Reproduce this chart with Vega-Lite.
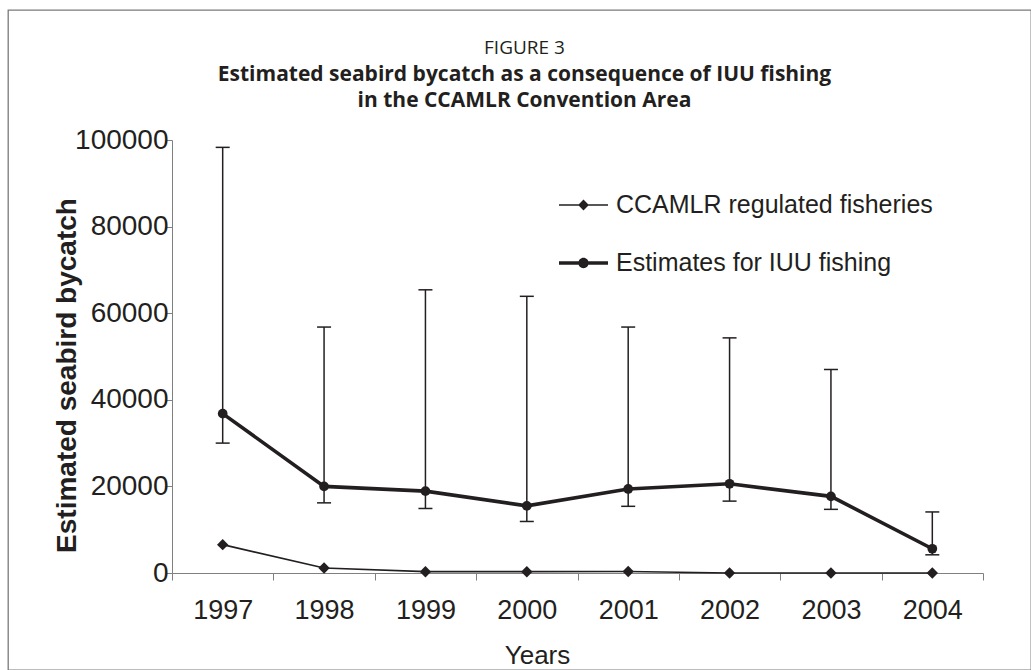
{
  "$schema": "https://vega.github.io/schema/vega-lite/v6.json",
  "autosize": "none",
  "width": 1023,
  "height": 660,
  "padding": {"left": 8, "top": 10, "right": 0, "bottom": 0},
  "background": "white",
  "config": {
    "view": {"stroke": "#7a7a7a", "strokeWidth": 1.3},
    "axis": {"labelFont": "Liberation Sans", "titleFont": "Liberation Sans", "labelColor": "#231f20", "titleColor": "#231f20", "domainColor": "#808080", "tickColor": "#808080", "grid": false}
  },
  "title": {
    "text": "FIGURE 3",
    "subtitle": ["Estimated seabird bycatch as a consequence of IUU fishing", "in the CCAMLR Convention Area"],
    "font": "Open Sans", "fontSize": 19, "fontWeight": "normal", "color": "#231f20",
    "subtitleFont": "Open Sans", "subtitleFontSize": 21, "subtitleFontWeight": "bold", "subtitleColor": "#231f20",
    "subtitleLineHeight": 26, "subtitlePadding": 6,
    "anchor": "middle", "frame": "group", "dx": 5, "offset": -101
  },
  "data": {"values": [
    {"year": 1997, "series": "CCAMLR regulated fisheries", "value": 6550},
    {"year": 1998, "series": "CCAMLR regulated fisheries", "value": 1150},
    {"year": 1999, "series": "CCAMLR regulated fisheries", "value": 300},
    {"year": 2000, "series": "CCAMLR regulated fisheries", "value": 300},
    {"year": 2001, "series": "CCAMLR regulated fisheries", "value": 350},
    {"year": 2002, "series": "CCAMLR regulated fisheries", "value": 0},
    {"year": 2003, "series": "CCAMLR regulated fisheries", "value": 0},
    {"year": 2004, "series": "CCAMLR regulated fisheries", "value": 0},
    {"year": 1997, "series": "Estimates for IUU fishing", "value": 36800, "lower": 30000, "upper": 98300},
    {"year": 1998, "series": "Estimates for IUU fishing", "value": 20000, "lower": 16200, "upper": 56800},
    {"year": 1999, "series": "Estimates for IUU fishing", "value": 18900, "lower": 14900, "upper": 65400},
    {"year": 2000, "series": "Estimates for IUU fishing", "value": 15500, "lower": 11900, "upper": 63900},
    {"year": 2001, "series": "Estimates for IUU fishing", "value": 19400, "lower": 15400, "upper": 56800},
    {"year": 2002, "series": "Estimates for IUU fishing", "value": 20600, "lower": 16600, "upper": 54300},
    {"year": 2003, "series": "Estimates for IUU fishing", "value": 17700, "lower": 14700, "upper": 47000},
    {"year": 2004, "series": "Estimates for IUU fishing", "value": 5600, "lower": 4200, "upper": 14100}
  ]},
  "encoding": {
    "x": {
      "field": "year", "type": "quantitative",
      "scale": {"domain": [1996.5, 2004.5], "range": [164, 975], "nice": false, "zero": false},
      "axis": {
        "title": "Years", "values": [1996.5, 1997.5, 1998.5, 1999.5, 2000.5, 2001.5, 2002.5, 2003.5, 2004.5],
        "labelExpr": "datum.value < 2004 ? format(datum.value + 0.5, 'd') : ''",
        "offset": -97,
        "labelOffset": 50.7, "labelFlush": false, "labelOverlap": false, "labelBound": false,
        "labelFontSize": 27, "labelPadding": 17, "tickSize": 7, "tickWidth": 1, "domainWidth": 1,
        "titleFontSize": 26, "titleFontWeight": "normal", "titleX": 529, "titleY": 90, "titleBaseline": "alphabetic", "titleAnchor": null, "titleAlign": "center"
      }
    },
    "y": {
      "field": "value", "type": "quantitative",
      "scale": {"domain": [0, 100000], "range": [563, 130], "nice": false},
      "axis": {
        "title": "Estimated seabird bycatch", "values": [0, 20000, 40000, 60000, 80000, 100000], "format": "d",
        "offset": -164,
        "labelFontSize": 28, "labelPadding": -3, "tickSize": 7, "tickWidth": 1, "domainWidth": 1,
        "titleFontSize": 28, "titleFontWeight": "bold", "titleX": -97, "titleY": 365, "titleAngle": -90, "titleBaseline": "alphabetic", "titleAlign": "center", "titleAnchor": null
      }
    }
  },
  "layer": [
    {
      "transform": [{"filter": "datum.upper != null"}],
      "mark": {"type": "rule", "color": "#231f20", "strokeWidth": 1.5},
      "encoding": {
        "y": {"field": "lower", "type": "quantitative"},
        "y2": {"field": "upper"}
      }
    },
    {
      "transform": [{"filter": "datum.upper != null"}],
      "mark": {"type": "tick", "orient": "horizontal", "color": "#231f20", "size": 14, "thickness": 1.5, "opacity": 1},
      "encoding": {"y": {"field": "upper", "type": "quantitative"}}
    },
    {
      "transform": [{"filter": "datum.upper != null"}],
      "mark": {"type": "tick", "orient": "horizontal", "color": "#231f20", "size": 14, "thickness": 1.5, "opacity": 1},
      "encoding": {"y": {"field": "lower", "type": "quantitative"}}
    },
    {
      "transform": [{"filter": "datum.series === 'CCAMLR regulated fisheries'"}],
      "mark": {"type": "line", "color": "#231f20", "strokeWidth": 1.7},
      "encoding": {}
    },
    {
      "transform": [{"filter": "datum.series === 'Estimates for IUU fishing'"}],
      "mark": {"type": "line", "color": "#231f20", "strokeWidth": 3.6},
      "encoding": {}
    },
    {
      "transform": [{"filter": "datum.series === 'CCAMLR regulated fisheries'"}],
      "mark": {"type": "point", "filled": true, "color": "#231f20", "opacity": 1, "size": 130, "shape": "diamond"},
      "encoding": {}
    },
    {
      "transform": [{"filter": "datum.series === 'Estimates for IUU fishing'"}],
      "mark": {"type": "point", "filled": true, "color": "#231f20", "opacity": 1, "size": 95, "shape": "circle"},
      "encoding": {}
    },
    {
      "transform": [{"filter": "false"}],
      "mark": {"type": "point", "filled": true, "color": "#231f20", "opacity": 1},
      "encoding": {
        "shape": {
          "field": "series", "type": "nominal",
          "scale": {"domain": ["CCAMLR regulated fisheries", "Estimates for IUU fishing"], "range": ["M-1,-0.035L1,-0.035L1,0.035L-1,0.035ZM-0.22,0L0,-0.22L0.22,0L0,0.22Z", "M-1,-0.075L1,-0.075L1,0.075L-1,0.075ZM0.21,0A0.21,0.21,0,1,1,-0.21,0A0.21,0.21,0,1,1,0.21,0Z"]},
          "legend": {
            "title": null, "orient": "none", "legendX": 550, "legendY": 169.5,
            "labelFont": "Liberation Sans", "labelFontSize": 25, "labelColor": "#231f20", "labelOffset": 7,
            "symbolSize": 2401, "rowPadding": 19, "padding": 0, "labelLimit": 500,
            "symbolFillColor": "#231f20", "symbolOpacity": 1
          }
        }
      }
    }
  ]
}
